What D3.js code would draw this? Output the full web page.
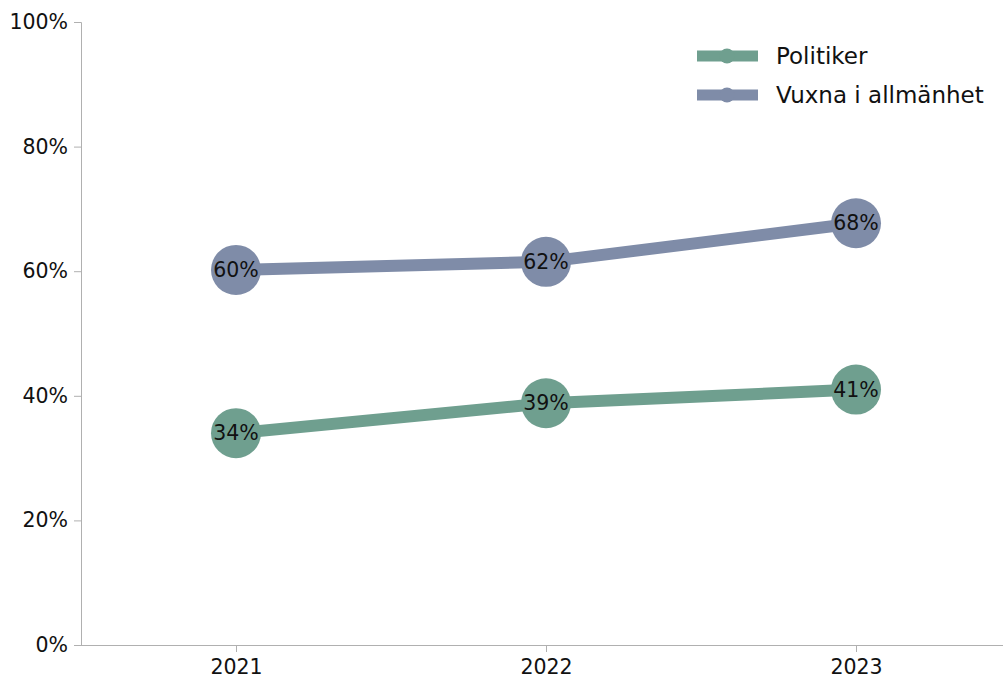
<!DOCTYPE html>
<html><head><meta charset="utf-8">
<script src="https://cdn.jsdelivr.net/npm/d3@7"></script>
<style>
body{margin:0;background:#fff;}
svg{display:block;font-family:"DejaVu Sans", sans-serif;}
</style></head>
<body><svg id="c" width="1003" height="677"></svg>
<script>
const years = ["2021","2022","2023"];
const politiker = [34, 38.8, 41];
const vuxna = [60.2, 61.5, 67.7];
const seriesNames = ["Politiker","Vuxna i allmänhet"];
const seriesColors = ["#6f9f8f","#7f8ca8"];
const yTicks = [0,20,40,60,80,100];

const svg = d3.select("#c");
const x = d3.scalePoint().domain(years).range([81, 1011]).padding(0.5);
const y = d3.scaleLinear().domain([0,100]).range([645, 22]);

const ax = svg.append("g").attr("transform","translate(81,0)")
  .call(d3.axisLeft(y).tickValues(yTicks).tickFormat(d=>d+"%").tickSize(7).tickPadding(6));
ax.select(".domain").attr("stroke","#b0b0b0").attr("d","M-7,22.5H0.5V645.5");
ax.selectAll(".tick line").attr("stroke","#b0b0b0");
ax.selectAll(".tick text").attr("font-size",20.5).attr("fill","#111").attr("font-family","DejaVu Sans, sans-serif");

const bx = svg.append("g").attr("transform","translate(0,645)")
  .call(d3.axisBottom(x).tickSize(7).tickPadding(7));
bx.select(".domain").attr("stroke","#b0b0b0").attr("d","M81,0.5H1003");
bx.selectAll(".tick line").attr("stroke","#b0b0b0");
bx.selectAll(".tick text").attr("font-size",20.5).attr("fill","#111").attr("font-family","DejaVu Sans, sans-serif");

const data = [politiker, vuxna];
const line = d3.line().x((d,i)=>x(years[i])).y(d=>y(d));
data.forEach((s,k)=>{
  const g = svg.append("g");
  g.append("path").datum(s).attr("d",line).attr("fill","none")
    .attr("stroke",seriesColors[k]).attr("stroke-width",12);
  g.selectAll("circle").data(s).join("circle")
    .attr("cx",(d,i)=>x(years[i])).attr("cy",d=>y(d)).attr("r",25)
    .attr("fill",seriesColors[k]);
  g.selectAll("text").data(s).join("text")
    .attr("x",(d,i)=>x(years[i])).attr("y",d=>y(d)).attr("dy","0.35em")
    .attr("text-anchor","middle").attr("font-size",20.5).attr("fill","#111")
    .text(d=>Math.round(d)+"%");
});

const lg = svg.append("g");
seriesNames.forEach((n,k)=>{
  const yy = 56 + k*39;
  lg.append("line").attr("x1",697).attr("x2",758).attr("y1",yy).attr("y2",yy)
    .attr("stroke",seriesColors[k]).attr("stroke-width",11);
  lg.append("circle").attr("cx",727).attr("cy",yy).attr("r",7.5).attr("fill",seriesColors[k]);
  lg.append("text").attr("x",776).attr("y",yy).attr("dy","0.35em")
    .attr("font-size",23).attr("fill","#111").text(n);
});
</script></body></html>
